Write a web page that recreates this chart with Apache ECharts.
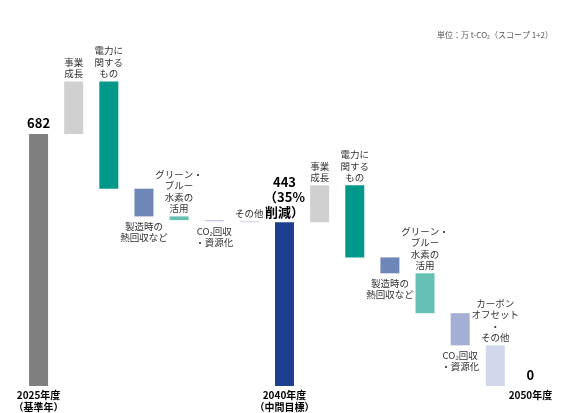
<!DOCTYPE html>
<html><head><meta charset="utf-8">
<script src="https://cdn.jsdelivr.net/npm/echarts@6/dist/echarts.min.js"></script>
<style>html,body{margin:0;padding:0;background:#fff}#c{width:569px;height:413px}</style>
</head><body><div id="c"></div>
<script>
// ---- data ----
const categories = ['2025年度','事業成長','電力に関するもの','製造時の熱回収など','グリーン・ブルー水素の活用','CO₂回収・資源化','その他','2040年度','事業成長','電力に関するもの','製造時の熱回収など','グリーン・ブルー水素の活用','CO₂回収・資源化','カーボンオフセット・その他','2050年度'];
const axisLabels = ['2025年度\n（基準年）','','','','','','','2040年度\n（中間目標）','','','','','','','2050年度'];
const barLabels = ['682','事業\n成長','電力に\n関する\nもの','製造時の\n熱回収など','グリーン・\nブルー\n水素の\n活用','CO₂回収\n・資源化','その他','443\n（35%\n削減）','事業\n成長','電力に\n関する\nもの','製造時の\n熱回収など','グリーン・\nブルー\n水素の\n活用','CO₂回収\n・資源化','カーボン\nオフセット\n・\nその他','0'];
// kind: 'total' = absolute value, otherwise change
const kinds = ['total','delta','delta','delta','delta','delta','delta','total','delta','delta','delta','delta','delta','delta','total'];
const values = [682, 142, -290, -75, -10, -3, -3, 443, 100, -195, -43, -108, -87, -110, 0];
const unitText = '単位：万 t-CO₂（スコープ 1+2）';

// ---- styles ----
const colors = ['#7f7f7f','#d0d0d0','#00988a','#6f86b8','#66c0b3','#b8bfdc','#d0d6e8','#1e3f8e','#d0d0d0','#00988a','#6f86b8','#66c0b3','#a3b0d4','#d2d8eb','#d2d8eb'];
const labelPos = ['top','top','top','bottom','top','bottom','top','top','top','top','bottom','top','bottom','top','top'];

const base = [], heights = [];
let run = 0;
values.forEach((v, i) => {
  if (kinds[i] === 'total') { run = v; base.push(0); heights.push(v); }
  else if (v >= 0) { base.push(run); heights.push(v); run += v; }
  else { run += v; base.push(run); heights.push(-v); }
});

const FONT = '"Noto Sans CJK JP", "Noto Sans", sans-serif';
const visData = heights.map((h, i) => {
  const isTotal = kinds[i] === 'total';
  return {
    value: h,
    itemStyle: { color: colors[i] },
    label: {
      show: true,
      position: labelPos[i],
      distance: isTotal ? 3 : (labelPos[i] === 'bottom' ? 4 : 2),
      formatter: barLabels[i],
      fontFamily: FONT,
      fontSize: isTotal ? 13 : 9.5,
      fontWeight: isTotal ? 'bold' : 'normal',
      lineHeight: isTotal ? 15 : 11.5,
      color: isTotal ? '#000' : '#333',
      align: 'center'
    }
  };
});

const chart = echarts.init(document.getElementById('c'), null, { renderer: 'canvas' });
chart.setOption({
  animation: false,
  backgroundColor: '#fff',
  grid: { left: 21, right: 21, top: 16.5, bottom: 27, containLabel: false },
  xAxis: {
    type: 'category',
    data: categories,
    axisLine: { show: false },
    axisTick: { show: false },
    axisLabel: {
      interval: 0,
      margin: 3,
      formatter: (v, i) => axisLabels[i],
      fontFamily: FONT,
      fontSize: 10,
      fontWeight: 'bold',
      lineHeight: 12,
      color: '#000'
    }
  },
  yAxis: { type: 'value', min: 0, max: 1000, show: false, splitLine: { show: false } },
  series: [
    { type: 'bar', stack: 'w', data: base, itemStyle: { color: 'transparent' }, barWidth: 19, silent: true },
    { type: 'bar', stack: 'w', data: visData, barWidth: 19 }
  ],
  graphic: [{
    type: 'text', right: 16, top: 31,
    style: { text: unitText, font: '8px ' + FONT, fill: '#555' }
  }]
});
</script></body></html>
